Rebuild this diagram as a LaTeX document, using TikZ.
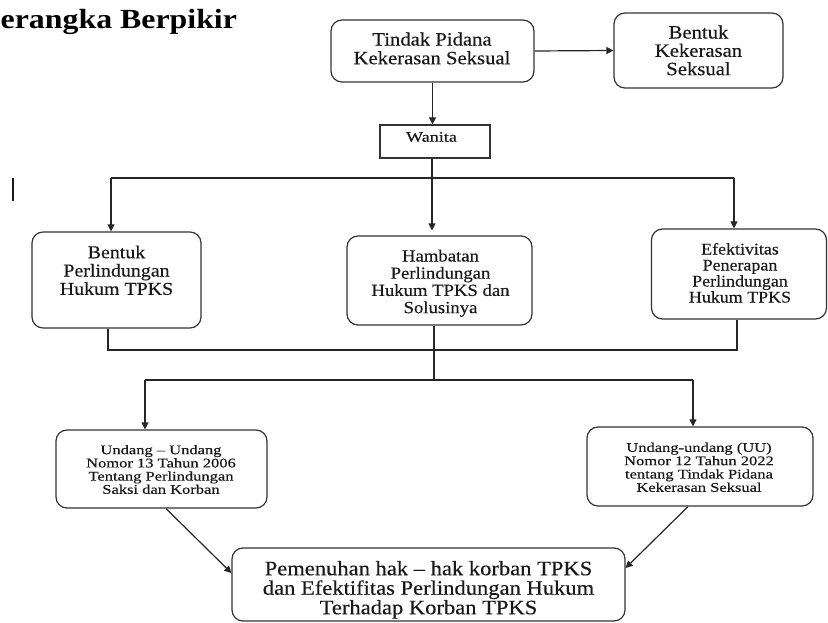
\documentclass[tikz,border=0pt]{standalone}
\usepackage{fontspec}
\setmainfont[FakeStretch=1.1,FakeBold=0.3]{Liberation Serif}
\newfontfamily\widefont[FakeStretch=1.25,FakeBold=0.5,Ligatures=TeX]{Liberation Serif}
\newfontfamily\titlefont[FakeStretch=1.15]{Liberation Serif}
\usetikzlibrary{arrows.meta,calc}
\newcommand\ls{\vrule height .75\baselineskip depth .25\baselineskip width 0pt}
\newcommand\fs[2]{\fontsize{#1}{#2}\selectfont}
\begin{document}
\begin{tikzpicture}[x=1pt,y=-1pt,
  box/.style={draw=black!80, line width=1.2pt, rounded corners=11pt, inner sep=0pt},
  sbox/.style={draw=black!80, line width=1.2pt, inner sep=0pt},
  txt/.style={align=center, inner sep=0pt, anchor=north, text=black!90},
  conn/.style={draw=black!85, line width=1.2pt},
  arr/.style={conn, -{Triangle[length=7pt,width=7pt]}}]
\useasboundingbox (0,0) rectangle (828,623);

% title
\node[anchor=base west, inner sep=0pt, font={\titlefont\bfseries\fs{27.7}{30}}] (title) at (0.5,28.3) {erangka Berpikir};
\draw[line width=2pt, black!90] (13,178) -- (13,201);

% boxes
\node[box, minimum width=203pt, minimum height=62pt] (T) at (432.5,51) {};
\node[txt, font=\fs{18.8}{18.7}] (Tt) at (432,31.3) {\ls Tindak Pidana\\\ls Kekerasan Seksual};

\node[box, minimum width=169pt, minimum height=75pt] (BK) at (698.5,50.5) {};
\node[txt, font=\fs{18.8}{18.3}] (BKt) at (698.5,24.6) {\ls Bentuk\\\ls Kekerasan\\\ls Seksual};

\node[sbox, minimum width=110pt, minimum height=33pt] (W) at (435,141.5) {};
\node[anchor=base, inner sep=0pt, text=black!90, font={\widefont\fs{14.5}{15}}] (Wt) at (431.5,141.7) {Wanita};

\node[box, minimum width=169pt, minimum height=96pt] (BP) at (116.5,280) {};
\node[txt, font=\fs{18.1}{18.3}] (BPt) at (116.5,244.3) {\ls Bentuk\\\ls Perlindungan\\\ls Hukum TPKS};

\node[box, minimum width=185pt, minimum height=89pt] (H) at (439.5,280.5) {};
\node[txt, font=\fs{17}{17.2}] (Ht) at (440.5,248.4) {\ls Hambatan\\\ls Perlindungan\\\ls Hukum TPKS dan\\\ls Solusinya};

\node[box, minimum width=175pt, minimum height=90pt] (E) at (739,274) {};
\node[txt, font=\fs{16.3}{16}] (Et) at (740,242.3) {\ls Efektivitas\\\ls Penerapan\\\ls Perlindungan\\\ls Hukum TPKS};

\node[box, minimum width=211pt, minimum height=78pt] (U1) at (161.5,469) {};
\node[txt, font={\widefont\fs{13.2}{13.2}}] (U1t) at (161,444.1) {\ls Undang – Undang\\\ls Nomor 13 Tahun 2006\\\ls Tentang Perlindungan\\\ls Saksi dan Korban};

\node[box, minimum width=226pt, minimum height=79pt] (U2) at (700,466.5) {};
\node[txt, font={\widefont\fs{13.2}{13.3}}] (U2t) at (699,441.7) {\ls Undang-undang (UU)\\\ls Nomor 12 Tahun 2022\\\ls tentang Tindak Pidana\\\ls Kekerasan Seksual};

\node[box, minimum width=393pt, minimum height=73pt] (B) at (428.5,584.5) {};
\node[txt, font=\fs{20.5}{19.5}] (Bt) at (428.5,560.4) {\ls Pemenuhan hak – hak korban TPKS\\\ls dan Efektifitas Perlindungan Hukum\\\ls Terhadap Korban TPKS};

% connectors
\draw[arr] (T.east) -- (BK.west);
\draw[arr] (T.south) -- (T.south |- W.north);
\coordinate (j0) at (432,178);
\coordinate (jL) at (111,178);
\coordinate (jR) at (734,178);
\draw[conn] (j0 |- W.south) -- (j0);
\draw[conn] (jL) -- (jR);
\draw[arr] (jL) -- (jL |- BP.north);
\draw[arr] (jR) -- (jR |- E.north);
\draw[arr, shorten >=5pt] (j0) -- (j0 |- H.north);

\coordinate (kL) at (108,350);
\coordinate (kR) at (737,350);
\draw[conn] (kL |- BP.south) -- (kL) -- (kR) -- (kR |- E.south);
\coordinate (m0) at (434,380);
\coordinate (mL) at (145,380);
\coordinate (mR) at (693,380);
\draw[conn] (m0 |- H.south) -- (m0);
\draw[conn] (mL) -- (mR);
\draw[arr] (mL) -- (mL |- U1.north);
\draw[arr] (mR) -- (mR |- U2.north);

\draw[arr] ($(U1.south)+(4.5,0)$) -- (B.west |- 0,573);
\draw[arr] ($(U2.south)+(-12,0)$) -- (B.east |- 0,568);
\end{tikzpicture}
\end{document}
